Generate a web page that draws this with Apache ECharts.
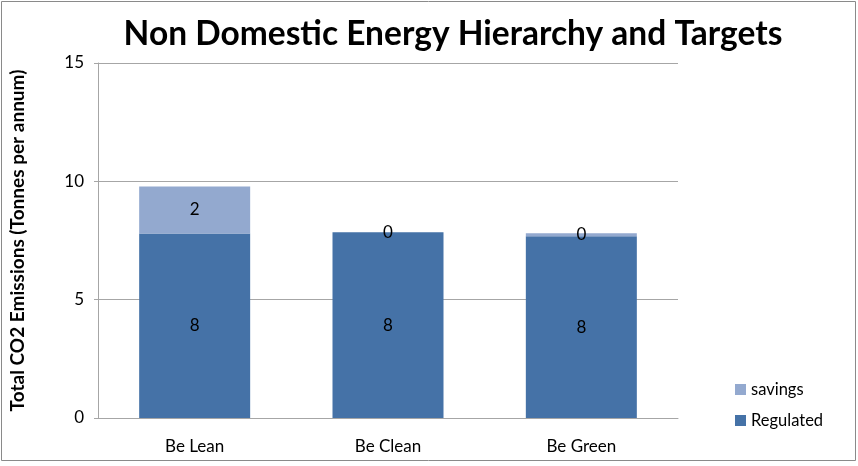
<!DOCTYPE html>
<html><head><meta charset="utf-8">
<script src="https://cdn.jsdelivr.net/npm/echarts@6/dist/echarts.min.js"></script>
<style>html,body{margin:0;padding:0;background:#fff}#c{width:858px;height:466px;}</style>
</head><body><div id="c"></div>
<script>
const categories = ['Be Lean', 'Be Clean', 'Be Green'];
const regulated = [7.8, 7.85, 7.68];
const savings = [1.98, 0, 0.13];
const yTicks = [0, 5, 10, 15];

const chart = echarts.init(document.getElementById('c'));
const font = 'Lato, "Open Sans", sans-serif';
const lbl = {show: true, position: 'inside', color: '#000', fontSize: 17, fontFamily: font,
  formatter: p => String(Math.round(p.value))};
chart.setOption({
  animation: false,
  graphic: [{type: 'rect', shape: {x: 1.5, y: 1.5, width: 854, height: 459},
    style: {fill: 'none', stroke: '#8a8a8a', lineWidth: 1}}],
  title: {text: 'Non Domestic Energy Hierarchy and Targets', left: 448, textAlign: 'center', top: 12,
    textStyle: {fontFamily: font, fontWeight: 'bold', fontSize: 33.5, color: '#000'}},
  grid: {left: 98, right: 180, top: 63, bottom: 48},
  legend: {orient: 'vertical', left: 730, top: 376, itemWidth: 11, itemHeight: 11, itemGap: 14,
    icon: 'rect', data: ['savings', 'Regulated'],
    textStyle: {fontFamily: font, fontSize: 16.5, color: '#000'}},
  xAxis: {type: 'category', data: categories,
    axisLine: {lineStyle: {color: '#a6a6a6'}}, axisTick: {show: false},
    axisLabel: {fontFamily: font, fontSize: 17, color: '#000', margin: 20}},
  yAxis: {type: 'value', min: yTicks[0], max: yTicks[yTicks.length - 1], interval: 5,
    name: 'Total CO2 Emissions (Tonnes per annum)', nameLocation: 'middle', nameGap: 71,
    nameTextStyle: {fontFamily: font, fontWeight: 'bold', fontSize: 19, color: '#000'},
    axisLine: {show: true, lineStyle: {color: '#a6a6a6'}},
    axisTick: {show: true, length: 4, lineStyle: {color: '#a6a6a6'}},
    splitLine: {lineStyle: {color: '#a6a6a6'}},
    axisLabel: {fontFamily: font, fontSize: 17, color: '#000', margin: 14}},
  series: [
    {name: 'Regulated', type: 'bar', stack: 's', data: regulated, barWidth: 111,
      itemStyle: {color: '#4572A7'}, label: lbl},
    {name: 'savings', type: 'bar', stack: 's', data: savings, barWidth: 111,
      itemStyle: {color: '#93A9CF'}, label: lbl}
  ]
});
</script></body></html>
